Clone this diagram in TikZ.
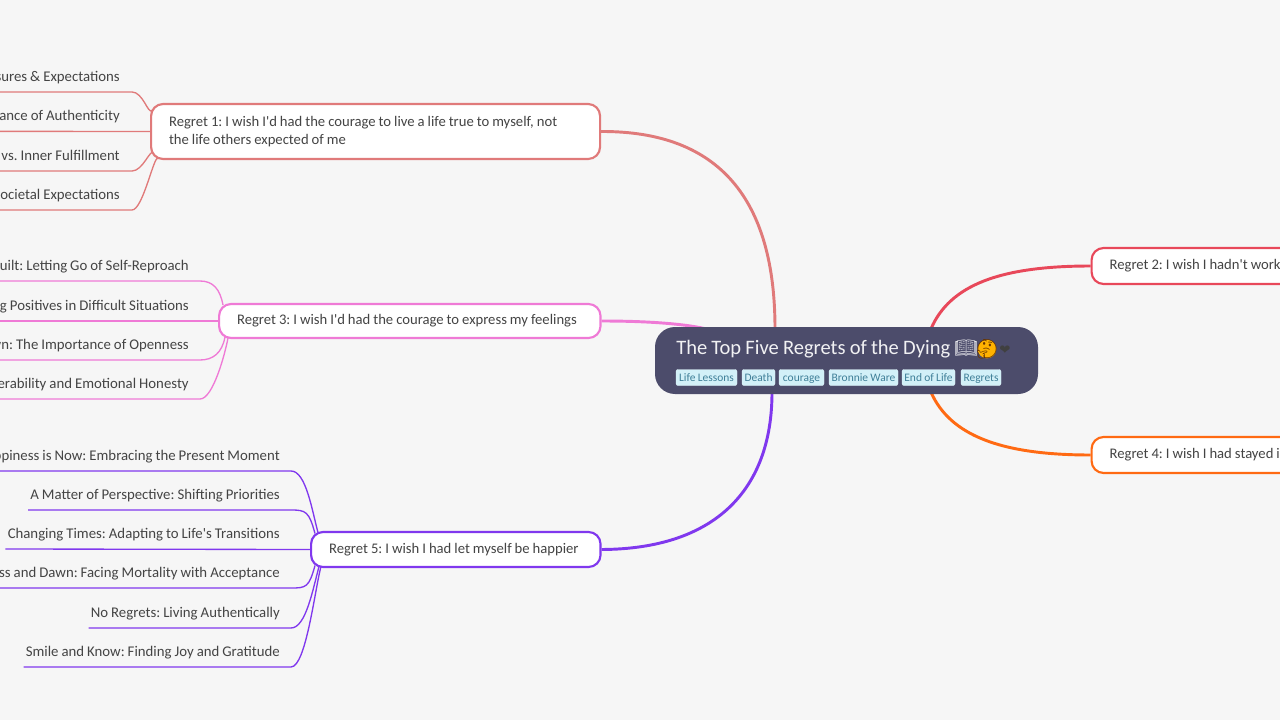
\documentclass[tikz,border=0pt]{standalone}
\usepackage{fontspec}
\usepackage{tikz}
\usetikzlibrary{positioning,backgrounds,calc}
\newfontfamily\mapfont[WordSpace=0.9]{Carlito}
\newfontfamily\emojifont{Noto Emoji}
\newfontfamily\symfont{DejaVu Sans}
\frenchspacing

\definecolor{pagebg}{HTML}{F6F6F6}
\definecolor{rootbg}{HTML}{4C4C6B}
\definecolor{tagbg}{HTML}{D2F0F8}
\definecolor{tagfg}{HTML}{3F7F98}
\definecolor{inktxt}{HTML}{444444}
\definecolor{regone}{HTML}{E07A7A}
\definecolor{regtwo}{HTML}{E8485A}
\definecolor{regthree}{HTML}{EF7AD6}
\definecolor{regfour}{HTML}{FF6A13}
\definecolor{regfive}{HTML}{8038EE}

\tikzset{
  every node/.style={font=\mapfont},
  regret/.style={draw=#1,line width=1.6pt,fill=white,rounded corners=9pt,anchor=west,
    align=flush left,inner xsep=13.5pt,inner ysep=0pt,text=inktxt,font=\mapfont\fontsize{11}{13.5}\selectfont},
  leaf/.style={anchor=south east,inner xsep=1.5pt,inner ysep=5.25pt,text depth=2.25pt,text height=8pt,
    text=inktxt,font=\mapfont\fontsize{11.1}{12}\selectfont},
  cutleaf/.style={leaf,text width=330pt,align=flush right},
  tagbox/.style={fill=tagbg,draw=tagbg!70!white,rounded corners=1.5pt,line width=.3pt,inner sep=0pt,
    minimum height=12pt,text height=6.8pt,text depth=.4pt,text=tagfg,font=\mapfont\fontsize{8.6}{9}\selectfont},
  trunk/.style={line width=2.2pt},
  twig/.style={line width=1pt}
}

\begin{document}
\begin{tikzpicture}[x=0.75pt,y=-0.75pt]
\clip (0,0) rectangle (1280,720);

% Central topic
\node[fill=rootbg,rounded corners=15pt,minimum width=287.25pt,minimum height=50.25pt,inner sep=0pt] (root) at (846.5,360.5) {};
\node[anchor=base west,inner sep=0pt,text=white!92!rootbg,font=\mapfont\fontsize{15.4}{16}\selectfont] (title) at (676,354) {The Top Five Regrets of the Dying};
\node[anchor=base west,inner sep=0pt,text=white!85!rootbg,font=\emojifont\fontsize{14}{16}\selectfont] (book) at (954,354) {📖};
\node[circle,fill=orange!60!yellow,minimum size=14pt,inner sep=0pt] (thinkbg) at (987,349) {};
\node[inner sep=0pt,text=orange!40!black,font=\emojifont\fontsize{14}{16}\selectfont] (think) at (thinkbg) {🤔};
\node[anchor=base west,inner sep=0pt,text=black!75,font=\symfont\fontsize{10}{16}\selectfont] (heart) at (999,354) {❤};

% Tags
\foreach \tagname/\tagx/\tagw/\tagtxt in {life/706.5/61/Life Lessons,death/758.5/33/Death,cour/801.5/45/courage,ware/863.5/69/Bronnie Ware,eol/928.5/53/End of Life,regs/981/40/Regrets}
  \node[tagbox,minimum width=\tagw*0.75pt] (\tagname) at (\tagx,377.5) {\tagtxt};

% Main branches
\node[regret=regone,text width=309.75pt,minimum height=41.25pt] (rone) at (150,131.5) {Regret 1: I wish I'd had the courage to live a life true to myself, not\\the life others expected of me};
\node[regret=regthree,text width=259.1pt,minimum height=25.5pt] (rthree) at (218,321) {Regret 3: I wish I'd had the courage to express my feelings};
\node[regret=regfive,text width=190.1pt,minimum height=26.25pt] (rfive) at (310,549.5) {Regret 5: I wish I had let myself be happier};
\node[regret=regtwo,text width=300pt,minimum height=27pt] (rtwo) at (1090.5,266) {Regret 2: I wish I hadn't work};
\node[regret=regfour,text width=300pt,minimum height=27pt] (rfour) at (1090.5,455) {Regret 4: I wish I had stayed i};

% Sub topics
\foreach \lname/\ly/\lstyle/\ltxt in {a/92/cutleaf/sures \& Expectations,b/131/cutleaf/ance of Authenticity,c/171/cutleaf/vs. Inner Fulfillment,d/210/cutleaf/ocietal Expectations}
  \node[\lstyle] (\lname) at (122,\ly) {\ltxt};
\foreach \lname/\ly/\lstyle/\ltxt in {e/281/cutleaf/uilt: Letting Go of Self-Reproach,f/321/cutleaf/g Positives in Difficult Situations,g/360/cutleaf/wn: The Importance of Openness,h/399/cutleaf/erability and Emotional Honesty}
  \node[\lstyle] (\lname) at (191,\ly) {\ltxt};
\foreach \lname/\ly/\lstyle/\ltxt in {i/471/cutleaf/ppiness is Now: Embracing the Present Moment,j/510/leaf/A Matter of Perspective: Shifting Priorities,k/549/leaf/Changing Times: Adapting to Life's Transitions,l/588/cutleaf/ess and Dawn: Facing Mortality with Acceptance,m/628/leaf/No Regrets: Living Authentically,n/667/leaf/Smile and Know: Finding Joy and Gratitude}
  \node[\lstyle] (\lname) at (282,\ly) {\ltxt};

\begin{pgfonlayer}{background}
\clip (0,0) rectangle (1280,720);
\fill[pagebg] (0,0) rectangle (1280,720);
% Root ends of the branches
\coordinate (rootone) at ($(root.north)+(-71.5,2)$);
\coordinate (rootthree) at ($(root.north)+(-141,2)$);
\coordinate (rootfive) at ($(root.south)+(-74.5,-2)$);
\coordinate (roottwo) at ($(root.north)+(84.5,2)$);
\coordinate (rootfour) at ($(root.south)+(84.5,-2)$);

\draw[trunk,regone] (rone.east) .. controls (720,131) and (775,200) .. (rootone);
\draw[trunk,regthree] (rthree.east) .. controls (640,321) and (680,323) .. (rootthree);
\draw[trunk,regfive] (rfive.east) .. controls (715,549) and (772,490) .. (rootfive);
\draw[trunk,regtwo] (rtwo.west) .. controls (1000,266) and (950,285) .. (roottwo);
\draw[trunk,regfour] (rfour.west) .. controls (1000,455) and (950,435) .. (rootfour);

% Twigs, from sub topic to branch
\foreach \lname/\ly/\ex/\ey in {a/92/2/-21,c/171/4/21,d/210/8/27}
  \draw[twig,regone] (\lname.south west) -- (132,\ly) .. controls (143,\ly) and ($(rone.west)+({\ex-4},{\ey-4*sign(\ey)})$) .. ($(rone.west)+(\ex,\ey)$);
\draw[twig,regone] (b.south west) -- (rone.west);
\foreach \lname/\ly/\ex/\ey in {e/281/5/-16,g/360/7/16,h/399/10/17}
  \draw[twig,regthree] (\lname.south west) -- (200,\ly) .. controls (213,\ly) and ($(rthree.west)+({\ex-3},{\ey+16*sign(\ey)})$) .. ($(rthree.west)+(\ex,\ey)$);
\draw[twig,regthree] (f.south west) -- (rthree.west);
\foreach \lname/\ly/\ex/\ey in {i/471/8/-17,j/510/5/-16,l/588/5/16,m/628/9/17,n/667/11/17}
  \draw[twig,regfive] (\lname.south west) -- (291,\ly) .. controls (306,\ly) and ($(rfive.west)+({\ex-6},{\ey+22*sign(\ey)})$) .. ($(rfive.west)+(\ex,\ey)$);
\draw[twig,regfive] (k.south west) -- (rfive.west);
\end{pgfonlayer}
\end{tikzpicture}
\end{document}
